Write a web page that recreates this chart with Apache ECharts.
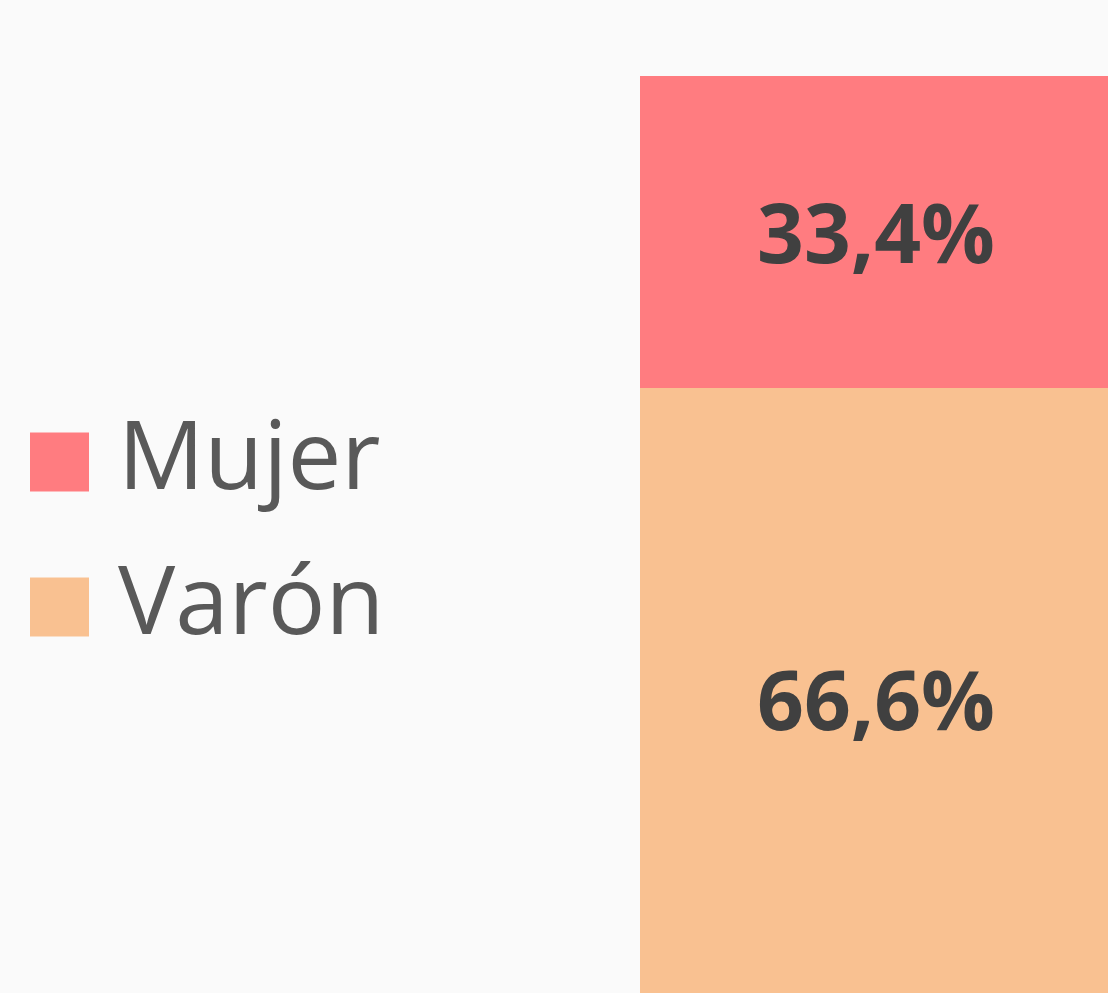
<!DOCTYPE html>
<html>
<head>
<meta charset="utf-8">
<style>
html,body{margin:0;padding:0;background:#FAFAFA;}
#chart{width:1108px;height:993px;}
</style>
<script src="https://cdn.jsdelivr.net/npm/echarts@6/dist/echarts.min.js"></script>
</head>
<body>
<div id="chart"></div>
<script>
const categories = ['Total'];
const seriesNames = ['Mujer', 'Varón'];
const mujerValues = [33.4];
const varonValues = [66.6];
const seriesColors = { 'Mujer': '#FF7C80', 'Varón': '#F9C191' };

const chart = echarts.init(document.getElementById('chart'), null, { renderer: 'canvas' });

function fmt(p) { return p.value.toFixed(1).replace('.', ',') + '%'; }

const labelStyle = {
  show: true,
  position: 'inside',
  offset: [0, 8],
  formatter: fmt,
  color: '#404040',
  fontFamily: 'Open Sans',
  fontWeight: 'bold',
  fontSize: 82
};

chart.setOption({
  backgroundColor: '#FAFAFA',
  animation: false,
  legend: {
    orient: 'vertical',
    left: 25,
    top: 407,
    data: seriesNames,
    icon: 'rect',
    itemWidth: 59,
    itemHeight: 59,
    itemGap: 45,
    textStyle: {
      color: '#595959',
      fontFamily: 'Open Sans',
      fontSize: 96,
      lineHeight: 92,
      padding: [8, 0, 0, 24]
    }
  },
  grid: { left: 640, top: 76, width: 472, height: 934, outerBoundsMode: 'none', containLabel: false },
  xAxis: {
    type: 'category',
    data: categories,
    show: false
  },
  yAxis: {
    type: 'value',
    min: 0,
    max: 100,
    show: false,
    splitLine: { show: false }
  },
  series: [
    {
      name: 'Varón',
      type: 'bar',
      stack: 'total',
      barWidth: '100%',
      data: varonValues,
      itemStyle: { color: seriesColors['Varón'] },
      label: labelStyle
    },
    {
      name: 'Mujer',
      type: 'bar',
      stack: 'total',
      barWidth: '100%',
      data: mujerValues,
      itemStyle: { color: seriesColors['Mujer'] },
      label: labelStyle
    }
  ]
});
</script>
</body>
</html>
